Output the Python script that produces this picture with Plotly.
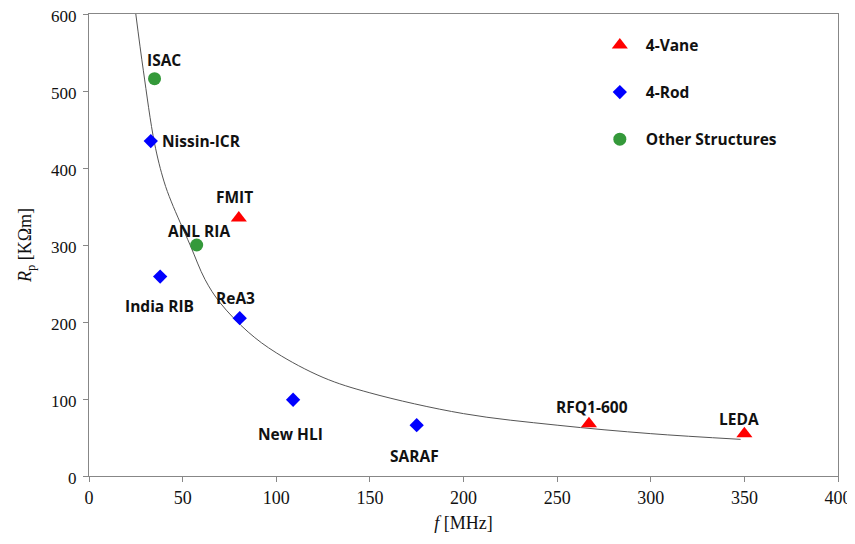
import plotly.graph_objects as go

# ---- data ----
vane_names = ["FMIT", "RFQ1-600", "LEDA"]
vane_f = [80, 267, 350]
vane_rp = [335, 68, 55]

rod_names = ["Nissin-ICR", "India RIB", "ReA3", "New HLI", "SARAF"]
rod_f = [33, 38, 80.5, 109, 175]
rod_rp = [435, 259, 205, 99, 66]

other_names = ["ISAC", "ANL RIA"]
other_f = [35, 57.5]
other_rp = [516, 300]

# trend curve
curve_f = [25, 29, 35, 40, 44, 54, 62, 70, 85, 100, 125, 150, 200, 250, 300, 348]
curve_rp = [600, 527, 432, 383, 356, 300, 255, 225, 187, 160, 128, 108, 81, 66, 55, 47.6]

x_ticks = [0, 50, 100, 150, 200, 250, 300, 350, 400]
y_ticks = [0, 100, 200, 300, 400, 500, 600]

# label offsets in pixels (style, not data)
label_shift = {
    "FMIT": (-4, 21, "center"),
    "RFQ1-600": (3, 17, "center"),
    "LEDA": (-5, 15, "center"),
    "Nissin-ICR": (9, 0, "left"),
    "India RIB": (-1, -29, "center"),
    "ReA3": (-4, 20, "center"),
    "New HLI": (-3, -34, "center"),
    "SARAF": (-2, -31, "center"),
    "ISAC": (9, 19, "center"),
    "ANL RIA": (2, 14, "center"),
}

LABEL_FONT = dict(family="Open Sans", size=15.5, color="#111111", weight="bold")
SERIF = "Liberation Serif"

fig = go.Figure()

fig.add_trace(go.Scatter(
    x=curve_f, y=curve_rp, mode="lines", line=dict(color="#555555", width=1, shape="spline"),
    showlegend=False, hoverinfo="skip"))

fig.add_trace(go.Scatter(
    x=vane_f, y=vane_rp, mode="markers", name="4-Vane", legendgroup="a",
    marker=dict(symbol="triangle-up", size=14, color="#ff0000")))
fig.add_trace(go.Scatter(
    x=rod_f, y=rod_rp, mode="markers", name="4-Rod", legendgroup="b",
    marker=dict(symbol="diamond", size=11, color="#0000ff")))
fig.add_trace(go.Scatter(
    x=other_f, y=other_rp, mode="markers", name="Other Structures", legendgroup="c",
    marker=dict(symbol="circle", size=13, color="#34993a")))

for names, fs, rps in [(vane_names, vane_f, vane_rp), (rod_names, rod_f, rod_rp),
                       (other_names, other_f, other_rp)]:
    for n, fx, ry in zip(names, fs, rps):
        dx, dy, anc = label_shift[n]
        fig.add_annotation(x=fx, y=ry, text=n, showarrow=False, xshift=dx, yshift=dy,
                           xanchor=anc, yanchor="middle", font=LABEL_FONT)

axis_common = dict(showline=True, linecolor="#878787", linewidth=1, mirror=True,
                   ticks="outside", ticklen=5, tickcolor="#878787", showgrid=False,
                   zeroline=False, automargin=False, ticklabeloverflow="allow")

fig.update_xaxes(range=[0, 400], tickvals=x_ticks, ticktext=[str(v) for v in x_ticks],
                 tickfont=dict(family=SERIF, size=18, color="#111111"),
                 title=dict(text="<i>f</i> [MHz]", font=dict(family=SERIF, size=18, color="#111111"),
                            standoff=9),
                 **axis_common)
fig.update_yaxes(range=[0, 600], tickvals=y_ticks, ticktext=[str(v) for v in y_ticks],
                 tickfont=dict(family=SERIF, size=17, color="#111111"),
                 ticklabelstandoff=3, ticklabelshift=2,
                 title=dict(text="<i>R</i><sub>p</sub> [KΩm]", font=dict(family=SERIF, size=18, color="#111111"),
                            standoff=14),
                 **axis_common)

# the page body adds an 8px offset; size and margins compensate so the plot
# area lands at x 89..838, y 14..476 in the 855x544 window
fig.update_layout(
    width=847, height=536,
    margin=dict(l=81, r=17, t=6, b=68),
    plot_bgcolor="white", paper_bgcolor="white",
    legend=dict(x=0.674, y=0.969, xanchor="left", yanchor="top", bgcolor="rgba(0,0,0,0)",
                font=dict(family="Open Sans", size=15.5, color="#111111", weight="bold"),
                tracegroupgap=24, itemwidth=42),
)

fig.write_html("out.html")
